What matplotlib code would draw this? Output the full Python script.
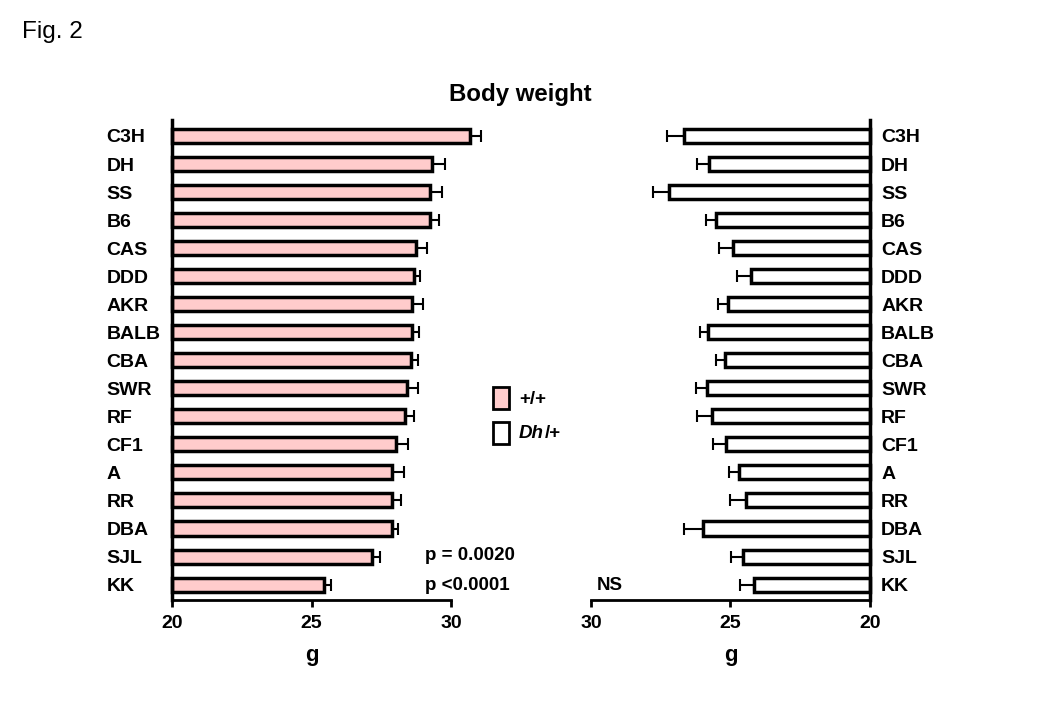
import matplotlib
matplotlib.use("Agg")
import matplotlib.pyplot as plt
from matplotlib.patches import Rectangle

plt.rcParams['font.family'] = ['Liberation Sans', 'DejaVu Sans']

strains = ["C3H", "DH", "SS", "B6", "CAS", "DDD", "AKR", "BALB", "CBA",
           "SWR", "RF", "CF1", "A", "RR", "DBA", "SJL", "KK"]
wt_mean = [30.68, 29.33, 29.25, 29.25, 28.75, 28.67, 28.61, 28.61, 28.57,
           28.43, 28.36, 28.04, 27.90, 27.90, 27.90, 27.18, 25.46]
wt_err = [0.39, 0.47, 0.42, 0.33, 0.38, 0.22, 0.37, 0.24, 0.26,
          0.39, 0.32, 0.43, 0.40, 0.29, 0.19, 0.26, 0.23]
dh_mean = [26.65, 25.77, 27.20, 25.51, 24.91, 24.26, 25.08, 25.79, 25.19,
           25.86, 25.66, 25.17, 24.70, 24.43, 26.00, 24.54, 24.15]
dh_err = [0.63, 0.43, 0.59, 0.36, 0.52, 0.52, 0.36, 0.31, 0.33,
          0.38, 0.55, 0.44, 0.37, 0.57, 0.66, 0.43, 0.51]
xticks = [20, 25, 30]

pink = "#FFCCCC"
n = len(strains)
ypos = list(range(n))

fig = plt.figure(figsize=(10.4, 7.2), dpi=100)
axL = fig.add_axes([172/1040, 1-600/720, 279/1040, 480/720])
axR = fig.add_axes([591/1040, 1-600/720, 279/1040, 480/720])

lab_fs = 14
for ax, means, errs, color in [(axL, wt_mean, wt_err, pink), (axR, dh_mean, dh_err, "white")]:
    bars = ax.barh(ypos, [m - 20 for m in means], left=20, height=0.5, color=color,
                   edgecolor="black", linewidth=2.5,
                   xerr=[[0]*n, errs], error_kw=dict(ecolor="black", elinewidth=1.5,
                                                      capsize=4.5, capthick=1.5))
    for p in bars.patches:
        p.set_clip_on(False)
    for c in bars.errorbar.get_children():
        c.set_clip_on(False)
    ax.set_ylim(16.55, -0.57)
    ax.set_xticks(xticks)
    ax.set_xticklabels([str(t) for t in xticks], fontsize=lab_fs, fontweight="bold")
    ax.set_yticks(ypos)
    ax.spines["top"].set_visible(False)
    ax.spines["bottom"].set_linewidth(2)
    ax.tick_params(axis="x", length=5, width=2, pad=6)
    ax.set_xlabel("g", fontsize=16, fontweight="bold", labelpad=9)

axL.set_xlim(20, 30)
axL.spines["right"].set_visible(False)
axL.spines["left"].set_linewidth(2.5)
axL.set_yticklabels(strains, fontsize=lab_fs, fontweight="bold", ha="left")
axL.tick_params(axis="y", length=0, pad=47)

axR.set_xlim(30, 20)
axR.spines["left"].set_visible(False)
axR.spines["right"].set_linewidth(2.5)
axR.yaxis.tick_right()
axR.set_yticklabels(strains, fontsize=lab_fs, fontweight="bold", ha="left")
axR.tick_params(axis="y", length=0, pad=8)

fig.text(22/1040, 1-32/720, "Fig. 2", fontsize=17.5, ha="left", va="center")
fig.text(520/1040, 1-94/720, "Body weight", fontsize=17.3, fontweight="bold",
         ha="center", va="center")

fig.text(425/1040, 1-556/720, "p = 0.0020", fontsize=13.5, fontweight="bold", va="center")
fig.text(425/1040, 1-585/720, "p <0.0001", fontsize=13.5, fontweight="bold", va="center")
fig.text(597/1040, 1-586/720, "NS", fontsize=13.5, fontweight="bold", va="center")

# legend
fig.patches.append(Rectangle((493/1040, 1-409/720), 16/1040, 22/720, transform=fig.transFigure,
                             facecolor=pink, edgecolor="black", linewidth=2))
fig.patches.append(Rectangle((493/1040, 1-444/720), 16/1040, 22/720, transform=fig.transFigure,
                             facecolor="white", edgecolor="black", linewidth=2))
fig.text(519/1040, 1-399/720, "+/+", fontsize=13.5, fontweight="bold", va="center")
t = fig.text(519/1040, 1-433/720, "Dh", fontsize=13.5, fontweight="bold", style="italic", va="center")
fig.add_artist(matplotlib.text.Annotation("/+", xy=(1, 0.5), xycoords=t, xytext=(0.3, 0),
                                          textcoords="offset points", fontsize=13.5,
                                          fontweight="bold", va="center", ha="left"))

fig.savefig("out.png", dpi=100)
